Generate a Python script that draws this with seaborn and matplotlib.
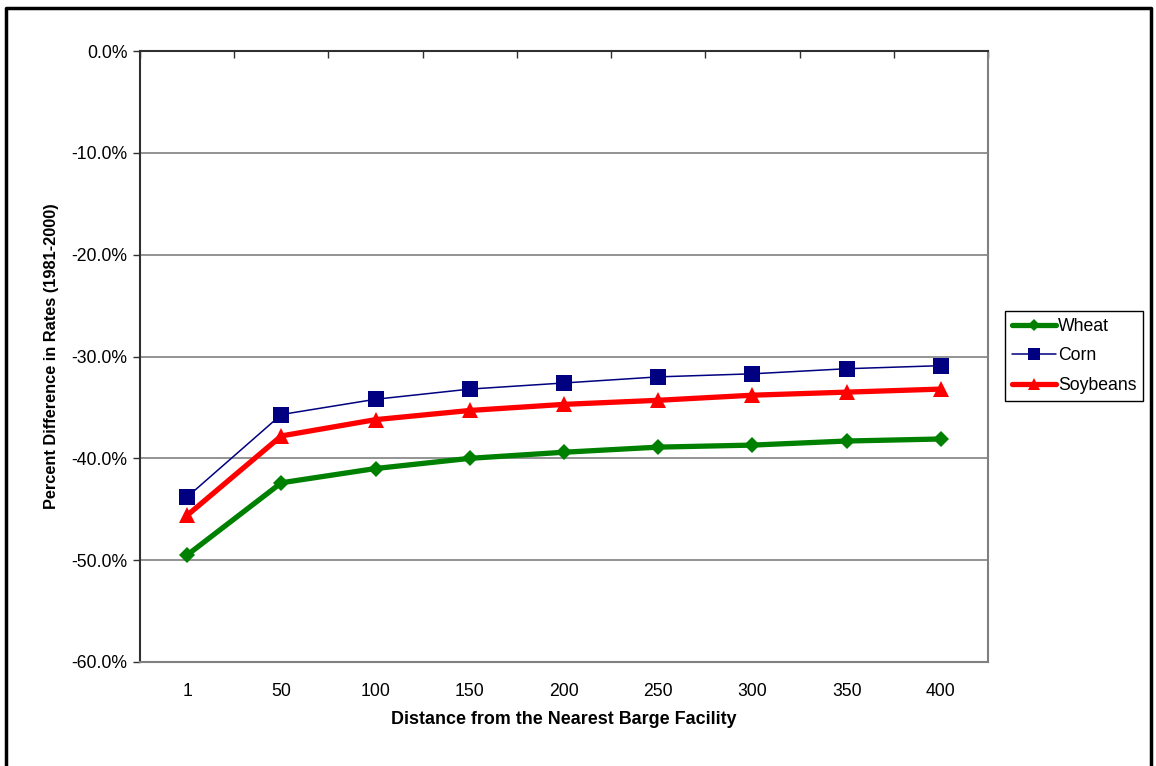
# Import Libraries
import pandas as pd
import seaborn as sns
import matplotlib.pyplot as plt
from matplotlib.ticker import FixedLocator, FuncFormatter
from matplotlib.lines import Line2D

# Data
distances = ['1', '50', '100', '150', '200', '250', '300', '350', '400']
wheat = [-49.5, -42.4, -41.0, -40.0, -39.4, -38.9, -38.7, -38.3, -38.1]
corn = [-43.8, -35.7, -34.2, -33.2, -32.6, -32.0, -31.7, -31.2, -30.9]
soybeans = [-45.6, -37.8, -36.2, -35.3, -34.7, -34.3, -33.8, -33.5, -33.2]
y_ticks = [0, -10, -20, -30, -40, -50, -60]

series = {
    'Wheat': dict(values=wheat, color='#008000', marker='D', ms=8.5, lw=3.8),
    'Corn': dict(values=corn, color='#000080', marker='s', ms=11.5, lw=1.1),
    'Soybeans': dict(values=soybeans, color='#FF0000', marker='^', ms=12, lw=3.8),
}

sns.set_theme(style='white')
plt.rcParams['font.family'] = ['Liberation Sans', 'DejaVu Sans']
plt.rcParams['axes.unicode_minus'] = False
plt.rcParams['text.color'] = 'black'
plt.rcParams['axes.labelcolor'] = 'black'
plt.rcParams['xtick.color'] = 'black'
plt.rcParams['ytick.color'] = 'black'

W, H = 1156, 766
fig = plt.figure(figsize=(W / 100, H / 100), dpi=100)
ax = fig.add_axes([140 / W, 1 - 662 / H, (988 - 140) / W, (662 - 51) / H])

pos = list(range(len(distances)))
for name, s in series.items():
    df = pd.DataFrame({'x': pos, 'y': s['values']})
    sns.lineplot(
        data=df, x='x', y='y', ax=ax,
        color=s['color'], marker=s['marker'], markersize=s['ms'],
        linewidth=s['lw'], markeredgecolor=s['color'], markeredgewidth=0,
        label=name, zorder=3,
    )

ax.set_xlim(-0.5, len(distances) - 0.5)
ax.set_ylim(-60, 0)

ax.set_xticks(pos)
ax.set_xticklabels(distances, fontsize=12.7)
ax.xaxis.set_minor_locator(FixedLocator([p - 0.5 for p in range(len(distances) + 1)]))
ax.tick_params(axis='x', which='major', length=0, pad=15)
ax.tick_params(axis='x', which='minor', bottom=False, top=True, direction='in',
               length=5, width=1, color='#303030')

ax.set_yticks(y_ticks)
ax.yaxis.set_major_formatter(FuncFormatter(lambda v, _: f'{v:.1f}%'))
ax.tick_params(axis='y', which='major', left=True, direction='out', length=5,
               width=1, color='#303030', labelsize=12.7, pad=4)

ax.yaxis.grid(True, color='#808080', linewidth=1.2)
ax.xaxis.grid(False)
ax.set_axisbelow(True)

for side in ['left', 'top']:
    ax.spines[side].set_color('#303030')
    ax.spines[side].set_linewidth(1.5)
for side in ['right', 'bottom']:
    ax.spines[side].set_color('#808080')
    ax.spines[side].set_linewidth(1.5)

ax.set_xlabel('Distance from the Nearest Barge Facility', fontsize=12.9,
              fontweight='bold')
ax.set_ylabel('Percent Difference in Rates (1981-2000)', fontsize=11.8,
              fontweight='bold')
ax.xaxis.set_label_coords(0.5, (662 - 711) / (662 - 51))
ax.yaxis.set_label_coords((59 - 140) / (988 - 140), 0.5)

handles = [
    Line2D([], [], color=s['color'], marker=s['marker'], markersize=s['ms'] * 0.7,
           linewidth=s['lw'], markeredgewidth=0)
    for s in series.values()
]
ax.legend(handles, list(series.keys()), loc='upper left',
          bbox_to_anchor=(1005 / W, 1 - 311 / H), bbox_transform=fig.transFigure,
          borderaxespad=0, frameon=True, fancybox=False, edgecolor='black',
          framealpha=1, fontsize=12.7, handlelength=2.5, handletextpad=0.1,
          labelspacing=0.7, borderpad=0.4)
ax.get_legend().get_frame().set_linewidth(1.0)

# outer chart frame
fig.add_artist(plt.Line2D([6 / W, 6 / W, 1151 / W, 1151 / W],
                          [0, 1 - 8 / H, 1 - 8 / H, 0],
                          transform=fig.transFigure, color='black', linewidth=2.5))

fig.savefig('out.png', dpi=100)
